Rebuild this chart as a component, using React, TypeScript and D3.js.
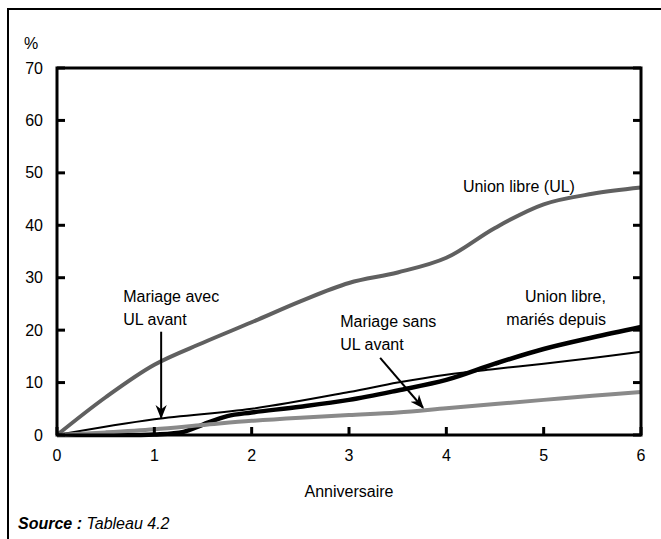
import React from "react";
import * as d3 from "d3";

type P = [number, number];

const xTicks = [0, 1, 2, 3, 4, 5, 6];
const yTicks = [0, 10, 20, 30, 40, 50, 60, 70];

const unionLibre: P[] = [
  [0, 0], [0.5, 7.2], [1, 13.4], [1.5, 17.6], [2, 21.5], [2.5, 25.5], [3, 29],
  [3.5, 31], [4, 33.8], [4.5, 39.5], [5, 44], [5.5, 46], [6, 47.2],
];
const ulMariesDepuis: P[] = [
  [0, 0], [0.5, 0], [1, 0.1], [1.3, 0.6], [1.5, 2], [1.75, 3.6], [2, 4.3],
  [2.5, 5.4], [3, 6.7], [3.5, 8.5], [4, 10.5], [4.5, 13.6], [5, 16.4], [5.5, 18.6], [6, 20.6],
];
const mariageAvecUL: P[] = [
  [0, 0], [1, 3], [2, 5], [3, 8.2], [3.5, 10], [4, 11.5], [4.5, 12.6],
  [5, 13.6], [5.5, 14.7], [6, 15.9],
];
const mariageSansUL: P[] = [
  [0, 0], [0.5, 0.5], [1, 1.1], [1.5, 1.9], [2, 2.7], [2.5, 3.3], [3, 3.8],
  [3.5, 4.3], [4, 5.1], [4.5, 5.9], [5, 6.7], [5.5, 7.5], [6, 8.2],
];

const W = 661;
const H = 539;
const L = 57, R = 641, T = 68, B = 435;
const FONT = "'Liberation Sans', Arial, sans-serif";

export default function App() {
  const x = d3.scaleLinear().domain([0, 6]).range([L, R]);
  const y = d3.scaleLinear().domain([0, 70]).range([B, T]);
  const line = d3
    .line<P>()
    .x((d) => x(d[0]))
    .y((d) => y(d[1]))
    .curve(d3.curveCatmullRom.alpha(0.5));

  const series = [
    { data: ulMariesDepuis, color: "#000", w: 4.5 },
    { data: mariageAvecUL, color: "#000", w: 2 },
    { data: mariageSansUL, color: "#8a8a8a", w: 4 },
    { data: unionLibre, color: "#606060", w: 4 },
  ];

  const tick = 8;

  return (
    <svg
      width={W}
      height={H}
      style={{ position: "absolute", left: 0, top: 0, background: "#fff" }}
      fontFamily={FONT}
    >
      <defs>
        <marker id="ah" viewBox="0 0 10 10" refX="9" refY="5" markerWidth="7" markerHeight="7" orient="auto">
          <path d="M0,1 L10,5 L0,9 L3,5 Z" fill="#000" />
        </marker>
      </defs>
      {/* outer frame */}
      <rect x={8} y={9} width={700} height={700} fill="none" stroke="#000" strokeWidth={2} />

      {/* series */}
      {series.map((s, i) => (
        <path key={i} d={line(s.data) || ""} fill="none" stroke={s.color} strokeWidth={s.w} strokeLinejoin="round" />
      ))}

      {/* plot frame */}
      <rect x={L} y={T} width={R - L} height={B - T} fill="none" stroke="#000" strokeWidth={3} />

      {/* y ticks left and right */}
      {yTicks.map((t) => (
        <g key={"y" + t}>
          <line x1={L} x2={L + tick} y1={y(t)} y2={y(t)} stroke="#000" strokeWidth={3} />
          <line x1={R} x2={R - tick} y1={y(t)} y2={y(t)} stroke="#000" strokeWidth={3} />
          <text x={43} y={y(t)} dy="0.35em" textAnchor="end" fontSize={16}>
            {t}
          </text>
        </g>
      ))}
      {/* x ticks */}
      {xTicks.map((t) => (
        <g key={"x" + t}>
          <line x1={x(t)} x2={x(t)} y1={B} y2={B - tick} stroke="#000" strokeWidth={3} />
          <text x={x(t)} y={461} textAnchor="middle" fontSize={16}>
            {t}
          </text>
        </g>
      ))}

      <text x={24} y={49} fontSize={16}>%</text>
      <text x={(L + R) / 2} y={497} textAnchor="middle" fontSize={16}>Anniversaire</text>
      <text x={18} y={529} fontSize={16} fontStyle="italic">
        <tspan fontWeight="bold">Source :</tspan> Tableau 4.2
      </text>

      {/* annotations */}
      <text x={x(0.68)} y={y(25.4)} fontSize={16}>Mariage avec</text>
      <text x={x(0.68)} y={y(21)} fontSize={16}>UL avant</text>
      <line x1={x(1.07)} y1={y(19.7)} x2={x(1.07)} y2={y(3.3)} stroke="#000" strokeWidth={2} markerEnd="url(#ah)" />

      <text x={x(2.91)} y={y(20.6)} fontSize={16}>Mariage sans</text>
      <text x={x(2.91)} y={y(16.2)} fontSize={16}>UL avant</text>
      <line x1={x(3.32)} y1={y(14.7)} x2={x(3.76)} y2={y(5.2)} stroke="#000" strokeWidth={2} markerEnd="url(#ah)" />

      <text x={x(4.17)} y={y(46.4)} fontSize={16}>Union libre (UL)</text>
      <text x={x(5.64)} y={y(25.4)} fontSize={16} textAnchor="end">Union libre,</text>
      <text x={x(5.64)} y={y(21)} fontSize={16} textAnchor="end">mariés depuis</text>
    </svg>
  );
}
